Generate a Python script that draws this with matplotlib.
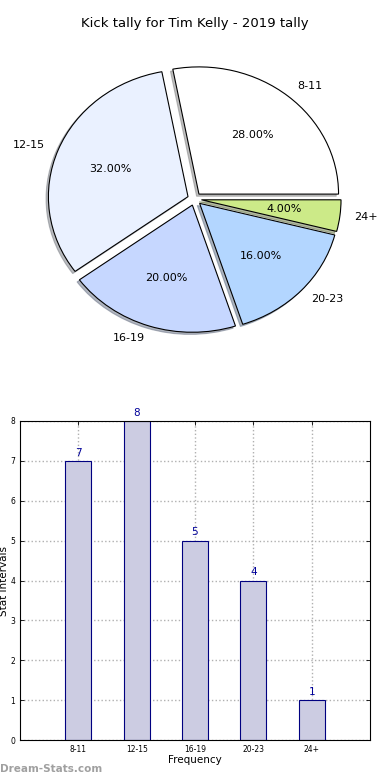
import matplotlib
matplotlib.use("Agg")
import matplotlib.pyplot as plt
import numpy as np

TITLE = "Kick tally for Tim Kelly - 2019 tally"
CATEGORIES = ["8-11", "12-15", "16-19", "20-23", "24+"]
COUNTS = [7, 8, 5, 4, 1]
PIE_COLORS = ["#ffffff", "#eaf1ff", "#c6d7ff", "#b3d6ff", "#ccea88"]


def main():
    fig = plt.figure(figsize=(3.9, 7.8), dpi=100)

    # pie chart on top
    ax_pie = fig.add_axes([20 / 390, 1 - 358 / 780, 349 / 390, 318 / 780])
    ax_pie.pie(
        COUNTS,
        labels=CATEGORIES,
        colors=PIE_COLORS,
        explode=[0.05] * len(COUNTS),
        autopct="%1.2f%%",
        shadow={"ox": -0.012, "oy": -0.012, "shade": 0.5},
        startangle=0,
        wedgeprops={"edgecolor": "black", "linewidth": 0.8},
        textprops={"fontsize": 8},
    )
    ax_pie.set_aspect("auto")
    ax_pie.set_xlim(-1.25, 1.25)
    ax_pie.set_ylim(-1.25, 1.25)
    ax_pie.set_title(TITLE, fontsize=9.5, pad=9)

    # bar chart below
    ax_bar = fig.add_axes([20 / 390, 40 / 780, 350 / 390, 319 / 780])
    x = np.arange(len(CATEGORIES))
    bars = ax_bar.bar(x, COUNTS, width=0.45, color="#ccccE2",
                      edgecolor="#000080", linewidth=0.8, zorder=2)
    for rect, val in zip(bars, COUNTS):
        ax_bar.text(rect.get_x() + rect.get_width() / 2, val + 0.08, str(val),
                    ha="center", va="bottom", color="#000099", fontsize=7.5)
    ax_bar.set_xlim(-1, 5)
    ax_bar.set_ylim(0, 8)
    ax_bar.set_xticks(x)
    ax_bar.set_xticklabels(CATEGORIES)
    ax_bar.set_yticks(range(0, 9))
    ax_bar.tick_params(labelsize=5.5, direction="in", top=True, right=True,
                       length=3, width=0.6)
    ax_bar.grid(True, linestyle=":", color="#b0b0b0", linewidth=1, zorder=0)
    ax_bar.set_axisbelow(True)
    ax_bar.set_xlabel("Frequency", fontsize=7.5, labelpad=1)
    ax_bar.set_ylabel("Stat Intervals", fontsize=7.5, labelpad=1)
    for sp in ax_bar.spines.values():
        sp.set_linewidth(0.8)

    fig.text(0.0, 6 / 780, "Dream-Stats.com", fontsize=7.5, color="#a0a0a0",
             fontweight="bold", ha="left", va="bottom")

    fig.savefig("out.png", dpi=100)


if __name__ == "__main__":
    main()
